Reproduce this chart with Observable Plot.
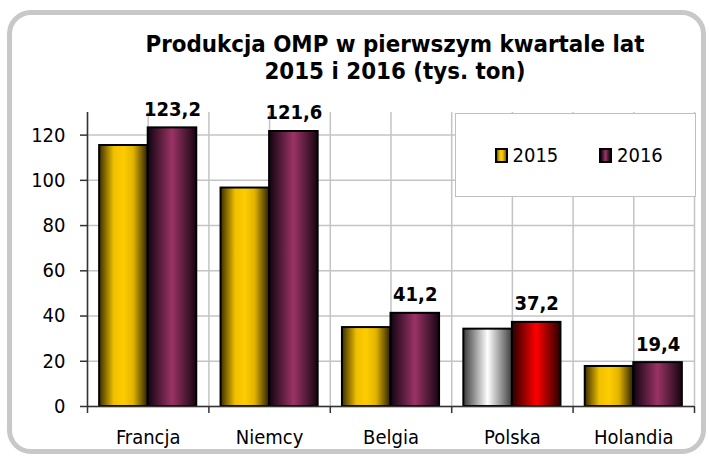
<!DOCTYPE html>
<html>
<head>
<meta charset="utf-8">
<script src="https://cdn.jsdelivr.net/npm/d3@7"></script>
<script src="https://cdn.jsdelivr.net/npm/@observablehq/plot@0.6"></script>
<style>
  html, body { margin: 0; padding: 0; background: #fff; }
  #wrap { position: relative; width: 709px; height: 458px; overflow: hidden;
          font-family: "DejaVu Sans Condensed", "DejaVu Sans", sans-serif; color: #000; }
  #frame { position: absolute; left: 7px; top: 10px; width: 689px; height: 434px;
           border: 5px solid #c8c8c8; border-radius: 24px; }
  #chart { position: absolute; left: 0; top: 0; }
  #title { position: absolute; left: 95px; width: 600px; top: 31px; text-align: center;
           font-weight: bold; font-size: 23.8px; line-height: 27px; white-space: nowrap; }
  #legend { position: absolute; left: 455px; top: 113px; width: 239px; height: 82px;
            background: #fff; border: 1.5px solid #c0c0c0; }
  .sw { position: absolute; width: 9px; height: 11px; border: 2px solid #000; }
  .lt { position: absolute; font-size: 20px; line-height: 20px; white-space: nowrap; }
</style>
</head>
<body>
<div id="wrap">
  <div id="frame"></div>
  <div id="chart"></div>
  <div id="title"></div>
  <div id="legend"></div>
</div>
<script>
// ---- data ----
const countries = ["Francja", "Niemcy", "Belgia", "Polska", "Holandia"];
const years = [2015, 2016];
const values2015 = [115.4, 96.6, 34.9, 34.2, 17.7];
const values2016 = [123.2, 121.6, 41.2, 37.2, 19.4];
const yTicks = [0, 20, 40, 60, 80, 100, 120];
const titleLines = ["Produkcja OMP w pierwszym kwartale lat", "2015 i 2016 (tys. ton)"];
const highlight = "Polska";

// ---- styles ----
const gradients = {
  gold:   [[0, "#3a2d00"], [0.3, "#f0c000"], [0.5, "#ffcc00"], [0.7, "#e2b400"], [1, "#2a2000"]],
  plum:   [[0, "#120410"], [0.5, "#9b3366"], [1, "#170510"]],
  silver: [[0, "#3a3a3a"], [0.5, "#ffffff"], [1, "#3e3e3e"]],
  red:    [[0, "#280000"], [0.5, "#ff0000"], [1, "#280000"]]
};
const seriesGrad = {2015: "gold", 2016: "plum"};
const highlightGrad = {2015: "silver", 2016: "red"};
const grid = "#c4c4c4", axis = "#333";
const groupPad = 0.1, barW = 0.4;

const rows = countries.flatMap((c, i) => [
  {country: c, year: 2015, value: values2015[i]},
  {country: c, year: 2016, value: values2016[i]}
]);
const slot = d => countries.indexOf(d.country) + groupPad + years.indexOf(d.year) * barW;
const fmt = v => d3.format(".1f")(v).replace(".", ",");

const chart = Plot.plot({
  width: 709, height: 458,
  marginLeft: 87, marginRight: 15, marginTop: 112, marginBottom: 52,
  style: {background: "transparent", fontFamily: "'DejaVu Sans Condensed', 'DejaVu Sans', sans-serif",
          fontSize: "20px", color: "#000", overflow: "visible"},
  x: {domain: [0, countries.length], axis: null},
  y: {domain: [0, 130], axis: null},
  color: {type: "identity"},
  marks: [
    Plot.gridY(yTicks, {stroke: grid, strokeOpacity: 1, strokeWidth: 1.5}),
    Plot.ruleX(d3.range(0, countries.length + 0.25, 0.5), {stroke: grid, strokeWidth: 1.5}),
    Plot.rectY(rows, {
      x1: d => slot(d), x2: d => slot(d) + barW, y1: 0, y2: "value",
      fill: d => `url(#g-${d.country === highlight ? highlightGrad[d.year] : seriesGrad[d.year]})`,
      stroke: "#000", strokeWidth: 2
    }),
    Plot.ruleY([0], {stroke: axis, strokeWidth: 1.5}),
    Plot.ruleX([0], {stroke: axis, strokeWidth: 1.5}),
    Plot.axisY({ticks: yTicks, tickSize: 7, tickPadding: 15, stroke: axis, strokeWidth: 1.5, fontSize: 20, label: null}),
    Plot.axisX({ticks: d3.range(0, countries.length + 1), tickSize: 7, tickFormat: () => "", stroke: axis, strokeWidth: 1.5, label: null}),
    Plot.axisX({ticks: countries.map((c, i) => i + 0.5), tickSize: 0, tickPadding: 23,
                tickFormat: v => countries[Math.floor(v)], fontSize: 20, label: null}),
    Plot.text(rows.filter(d => d.year === 2016), {
      x: d => slot(d) + barW / 2, y: "value", text: d => fmt(d.value),
      lineAnchor: "bottom", dy: -12, fontWeight: "bold", fontSize: 20, fill: "#000"
    })
  ]
});

// gradient defs
const defs = d3.select(chart).insert("defs", ":first-child");
for (const [id, stops] of Object.entries(gradients)) {
  const g = defs.append("linearGradient").attr("id", "g-" + id)
    .attr("x1", 0).attr("x2", 1).attr("y1", 0).attr("y2", 0);
  for (const [o, c] of stops) g.append("stop").attr("offset", o).attr("stop-color", c);
}
document.getElementById("chart").appendChild(chart);

// title
document.getElementById("title").innerHTML = titleLines.join("<br>");

// legend
const css = stops => "linear-gradient(to right," + stops.map(([o, c]) => `${c} ${o * 100}%`).join(",") + ")";
const legend = d3.select("#legend");
years.forEach((y, i) => {
  legend.append("div").attr("class", "sw")
    .style("left", (38.5 + i * 104) + "px").style("top", "33.5px")
    .style("background", css(gradients[seriesGrad[y]]).replace(/#2a2000|#3a2d00/g, "#7a6000"));
  legend.append("div").attr("class", "lt")
    .style("left", (56.5 + i * 104.5) + "px").style("top", "31.3px")
    .text(y);
});
</script>
</body>
</html>
